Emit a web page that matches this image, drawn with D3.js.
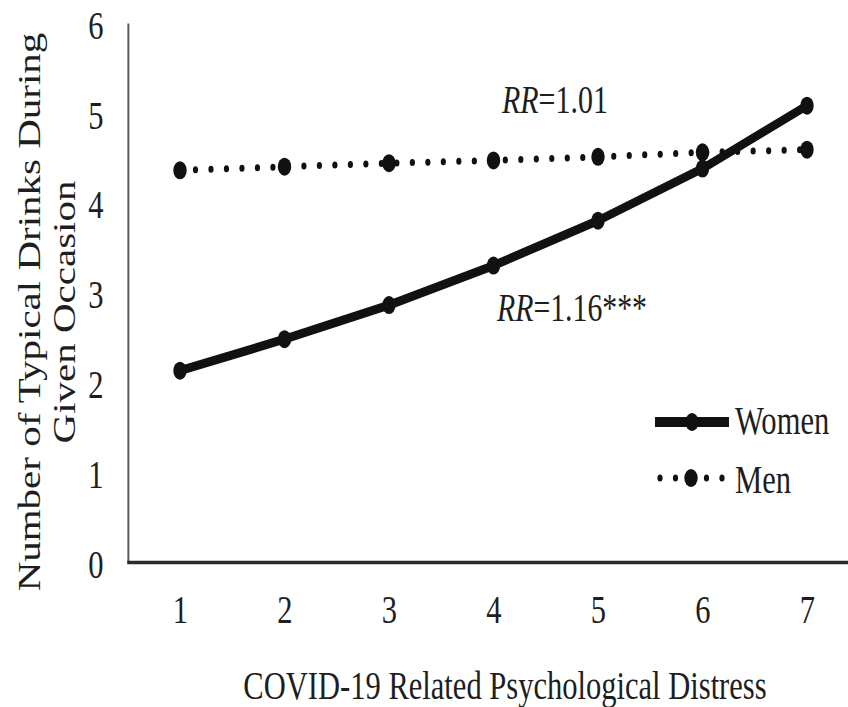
<!DOCTYPE html>
<html>
<head>
<meta charset="utf-8">
<script src="https://cdn.jsdelivr.net/npm/d3@7"></script>
<style>
  html, body { margin: 0; padding: 0; background: #fff; }
  svg { display: block; }
  text { font-family: "Liberation Serif", "Times New Roman", serif; fill: #1e1e1e; }
</style>
</head>
<body>
<script>
// ---- data ----
const categories = [1, 2, 3, 4, 5, 6, 7];
const women = [2.13, 2.48, 2.86, 3.30, 3.80, 4.38, 5.08];
const men = [4.36, 4.40, 4.44, 4.47, 4.51, 4.56, 4.59];
const yTicks = [0, 1, 2, 3, 4, 5, 6];
const seriesNames = ["Women", "Men"];
const xTitle = "COVID-19 Related Psychological Distress";
const yTitleLines = ["Number of Typical Drinks During", "Given Occasion"];
const annotWomen = { it: "RR", rest: "=1.16***" };
const annotMen = { it: "RR", rest: "=1.01" };

// ---- layout ----
const W = 848, H = 707;
const S = 0.745; // horizontal compression of the reference
const FS = 41;

const svg = d3.select("body").append("svg").attr("width", W).attr("height", H);
svg.append("rect").attr("width", W).attr("height", H).attr("fill", "#fff");
const g = svg.append("g").attr("transform", `scale(${S},1)`);

const x = d3.scalePoint().domain(categories).range([180 / S, 807 / S]);
const y = d3.scaleLinear().domain([0, 6]).range([562, 23]);
const axisX0 = 128 / S, axisX1 = 848 / S;

// y axis
const yAxis = g.append("g").attr("transform", `translate(${axisX0},0)`)
  .call(d3.axisLeft(y).tickValues(yTicks).tickSize(0).tickSizeOuter(0)
    .tickPadding((128 - 103.5) / S).tickFormat(d3.format("d")));
yAxis.select(".domain").attr("stroke", "#555").attr("stroke-width", 2.6);
yAxis.selectAll("text").attr("font-size", FS).attr("dy", "0.37em")
  .attr("font-family", "Liberation Serif").attr("fill", "#1e1e1e");

// x axis
const xAxis = g.append("g").attr("transform", `translate(0,${y(0)})`)
  .call(d3.axisBottom(x).tickSize(0).tickSizeOuter(0).tickPadding(32));
xAxis.select(".domain").remove();
xAxis.selectAll("text").attr("font-size", FS)
  .attr("font-family", "Liberation Serif").attr("fill", "#1e1e1e");
g.append("line").attr("x1", axisX0 - 1).attr("x2", axisX1)
  .attr("y1", y(0) + 0.5).attr("y2", y(0) + 0.5)
  .attr("stroke", "#2a2a2a").attr("stroke-width", 3.5);

// titles
g.append("text").attr("x", 505 / S).attr("y", 699).attr("text-anchor", "middle")
  .attr("font-size", FS).text(xTitle);
const yTitleX = [40, 75];
yTitleLines.forEach((t, i) => {
  g.append("text")
    .attr("transform", `translate(${yTitleX[i] / S},312) rotate(-90)`)
    .attr("text-anchor", "middle").attr("font-size", FS).text(t);
});

// series
const line = d3.line().x((d, i) => x(categories[i])).y(d => y(d));

g.append("path").datum(men).attr("d", line).attr("fill", "none")
  .attr("stroke", "#111").attr("stroke-width", 7)
  .attr("stroke-linecap", "round").attr("stroke-dasharray", "0 20.8");
g.selectAll(".menPt").data(men).join("circle").attr("class", "menPt")
  .attr("cx", (d, i) => x(categories[i])).attr("cy", d => y(d))
  .attr("r", 9).attr("fill", "#111");

g.append("path").datum(women).attr("d", line).attr("fill", "none")
  .attr("stroke", "#111").attr("stroke-width", 9).attr("stroke-linejoin", "round");
g.selectAll(".womenPt").data(women).join("circle").attr("class", "womenPt")
  .attr("cx", (d, i) => x(categories[i])).attr("cy", d => y(d))
  .attr("r", 9).attr("fill", "#111");

// annotations
function annot(a, px, py, len, fs) {
  const t = g.append("text").attr("x", px / S).attr("y", py).attr("font-size", fs)
    .attr("textLength", len / S).attr("lengthAdjust", "spacingAndGlyphs");
  t.append("tspan").attr("font-style", "italic").text(a.it);
  t.append("tspan").text(a.rest);
}
annot(annotMen, 502, 113, 106, 40);
annot(annotWomen, 497, 321, 150, 41);

// legend
const lg = g.append("g");
lg.append("line").attr("x1", 655 / S).attr("x2", 729 / S).attr("y1", 422).attr("y2", 422)
  .attr("stroke", "#111").attr("stroke-width", 10);
lg.append("circle").attr("cx", 692 / S).attr("cy", 422).attr("r", 9).attr("fill", "#111");
lg.append("text").attr("x", 735 / S).attr("y", 434).attr("font-size", FS).text(seriesNames[0]);

lg.append("line").attr("x1", 660 / S).attr("x2", 722 / S).attr("y1", 478).attr("y2", 478)
  .attr("stroke", "#111").attr("stroke-width", 7)
  .attr("stroke-linecap", "round").attr("stroke-dasharray", "0 20.8");
lg.append("circle").attr("cx", 691 / S).attr("cy", 478).attr("r", 9).attr("fill", "#111");
lg.append("text").attr("x", 735 / S).attr("y", 493).attr("font-size", FS).text(seriesNames[1]);
</script>
</body>
</html>
